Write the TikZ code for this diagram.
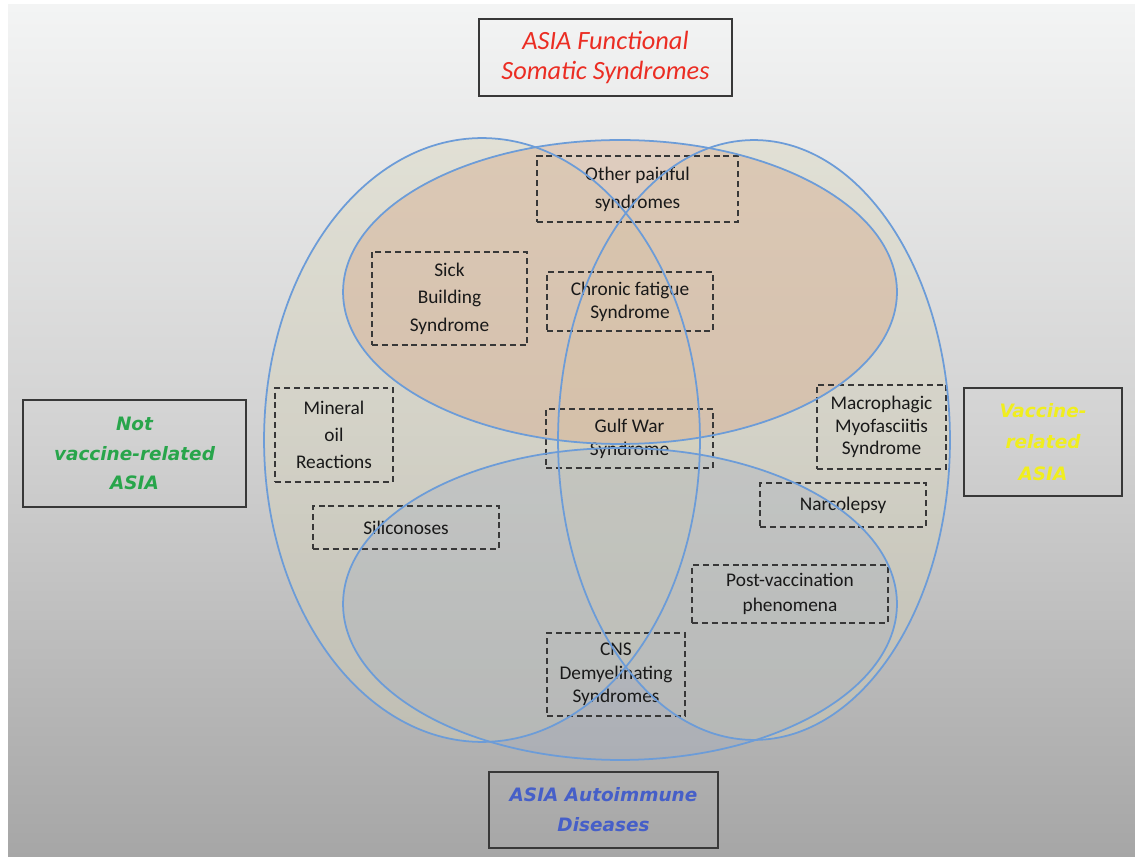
\documentclass[tikz,border=0pt]{standalone}
\usepackage{fontspec}
\setmainfont{Carlito}
\newfontfamily\verd{DejaVu Sans}
\definecolor{bgtop}{RGB}{243,244,244}
\definecolor{bgmid}{RGB}{210,210,210}
\definecolor{bgbot}{RGB}{166,166,166}
\definecolor{tallfill}{RGB}{214,210,182}
\definecolor{fssfill}{RGB}{215,178,150}
\definecolor{aifill}{RGB}{162,172,192}
\definecolor{edgeblue}{RGB}{108,156,216}
\definecolor{txtred}{RGB}{235,45,35}
\definecolor{txtgreen}{RGB}{40,165,75}
\definecolor{txtyellow}{RGB}{240,238,30}
\definecolor{txtblue}{RGB}{70,95,200}
\newcommand\lblf[1]{\fontsize{11}{#1}\selectfont}
\newcommand\catf[1]{\verd\bfseries\itshape\fontsize{10.5}{#1}\selectfont}
\begin{document}
\begin{tikzpicture}[x=0.02cm,y=-0.02cm]
\tikzset{
  catbox/.style={draw=black!78, line width=0.9pt, inner sep=0pt, align=center},
  dbox/.style={draw=black!78, line width=0.85pt, dash pattern=on 3.4pt off 2.2pt,
               inner sep=0pt, align=center, text=black!90},
  venn/.style={draw=edgeblue, line width=1pt},
}
\useasboundingbox (0,0) rectangle (1135,857);
% background
\shade[top color=bgtop, bottom color=bgbot, middle color=bgmid] (8,5) rectangle (1135,857);
% fills
\coordinate (cl) at (482,440);
\coordinate (cr) at (754,440);
\coordinate (cf) at (620,292);
\coordinate (ca) at (620,604);
\fill[tallfill, fill opacity=0.38] (cl) ellipse [x radius=4.36cm, y radius=6.04cm];
\fill[tallfill, fill opacity=0.38] (cr) ellipse [x radius=3.92cm, y radius=6.0cm];
\fill[fssfill, fill opacity=0.5] (cf) ellipse [x radius=5.54cm, y radius=3.04cm];
\fill[aifill, fill opacity=0.3] (ca) ellipse [x radius=5.54cm, y radius=3.12cm];
% dashed boxes
\node[dbox, minimum width=4.02cm, minimum height=1.32cm, font=\lblf{16}] (other) at (637.5,189) {Other painful\\syndromes};
\node[dbox, minimum width=3.10cm, minimum height=1.86cm, font=\lblf{15.6}] (sick) at (449.5,298.5) {Sick\\Building\\Syndrome};
\node[dbox, minimum width=3.32cm, minimum height=1.18cm, font=\lblf{13}] (cfs) at (630,301.5) {Chronic fatigue\\Syndrome};
\node[dbox, minimum width=2.36cm, minimum height=1.88cm, font=\lblf{15.4}] (mineral) at (334,435) {Mineral\\oil\\Reactions};
\node[dbox, minimum width=3.34cm, minimum height=1.18cm, font=\lblf{13}] (gulf) at (629.5,438.5) {Gulf War\\Syndrome};
\node[dbox, minimum width=2.58cm, minimum height=1.68cm, font=\lblf{13}] (mmf) at (881.5,427) {Macrophagic\\Myofasciitis\\Syndrome};
\node[dbox, minimum width=3.32cm, minimum height=0.88cm, font=\lblf{13}] (narco) at (843,505) {Narcolepsy};
\node[dbox, minimum width=3.72cm, minimum height=0.86cm, font=\lblf{13}] (silic) at (406,527.5) {Siliconoses};
\node[dbox, minimum width=3.92cm, minimum height=1.16cm, font=\lblf{14.2}] (post) at (790,594) {Post-vaccination\\phenomena};
\node[dbox, minimum width=2.76cm, minimum height=1.66cm, font=\lblf{13.4}] (cns) at (616,674.5) {CNS\\Demyelinating\\Syndromes};
% outlines
\draw[venn] (cl) ellipse [x radius=4.36cm, y radius=6.04cm];
\draw[venn] (cr) ellipse [x radius=3.92cm, y radius=6.0cm];
\draw[venn] (cf) ellipse [x radius=5.54cm, y radius=3.04cm];
\draw[venn] (ca) ellipse [x radius=5.54cm, y radius=3.12cm];
% category boxes
\node[catbox, minimum width=5.06cm, minimum height=1.54cm, text=txtred,
      font=\itshape\fontsize{15}{17}\selectfont] (fss) at (605.5,57.5) {ASIA Functional\\Somatic Syndromes};
\node[catbox, minimum width=4.46cm, minimum height=2.14cm, text=txtgreen,
      font=\catf{17}] (notvac) at (134.5,453.5) {Not\\vaccine-related\\ASIA};
\node[catbox, minimum width=3.16cm, minimum height=2.16cm, text=txtyellow,
      font=\catf{18}] (vac) at (1043,442) {Vaccine-\\related\\ASIA};
\node[catbox, minimum width=4.58cm, minimum height=1.52cm, text=txtblue,
      font=\catf{17}] (auto) at (603.5,810) {ASIA Autoimmune\\Diseases};
\end{tikzpicture}
\end{document}
